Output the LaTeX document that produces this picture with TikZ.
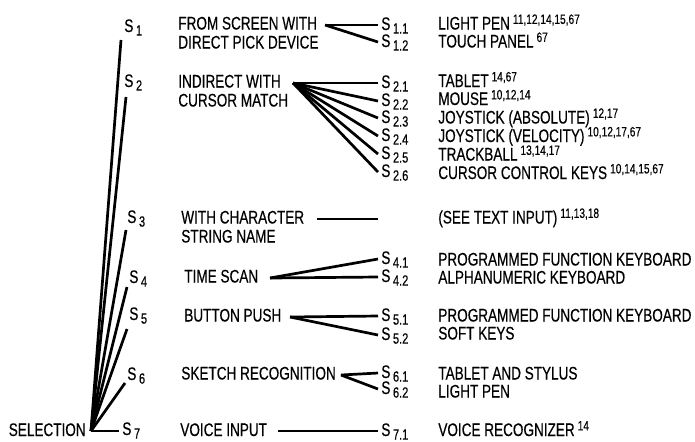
\documentclass[tikz,border=0pt]{standalone}
\usepackage{fontspec}
\setmainfont{Liberation Sans}[FakeStretch=0.745,FakeBold=0.4]
\newcommand{\refs}[1]{\,\raisebox{2.8pt}{\fontsize{6.8}{7}\selectfont #1}}
\newcommand{\Sx}[1]{S\kern1.3pt\raisebox{-1.8pt}{\fontsize{7.4}{8}\selectfont #1}}

\begin{document}
\begin{tikzpicture}[x=0.5pt,y=-0.5pt,line width=1.35pt,
    lbl/.style={anchor=base west,inner sep=0pt,font=\fontsize{9.1}{11}\selectfont}]
    \useasboundingbox (0,0) rectangle (695,441);

    % Root of the fan
    \coordinate (root) at (91,431);
    \node[lbl,anchor=base east] (sel) at (87,436) {SELECTION};

    % Fan to the seven classes
    \foreach \i/\tx/\ty/\lx/\ly in {1/121/40/123/32, 2/126/97/123/87, 3/126/230/126/223,
        4/127/287/128/283, 5/127/329/128/320, 6/125/383/126/380, 7/119/431/121/435}{
        \coordinate (t\i) at (\tx,\ty);
        \node[lbl] (s\i) at (\lx,\ly) {\Sx{\i}};
        \draw (root) -- (t\i);
    }

    % Class names
    \node[lbl] (m1a) at (177,29.5) {FROM SCREEN WITH};
    \node[lbl] (m1b) at (177,48.5) {DIRECT PICK DEVICE};
    \node[lbl] (m2a) at (177,87.5) {INDIRECT WITH};
    \node[lbl] (m2b) at (177,106.5) {CURSOR MATCH};
    \node[lbl] (m3a) at (180,223.5) {WITH CHARACTER};
    \node[lbl] (m3b) at (180,242.5) {STRING NAME};
    \node[lbl] (m4) at (183,282.5) {TIME SCAN};
    \node[lbl] (m5) at (183,321.5) {BUTTON PUSH};
    \node[lbl] (m6) at (180,379.5) {SKETCH RECOGNITION};
    \node[lbl] (m7) at (179,436) {VOICE INPUT};

    % Branch points
    \coordinate (g1) at (325,25);
    \coordinate (g2) at (293,83);
    \coordinate (g4) at (270,278);
    \coordinate (g5) at (290,317);
    \coordinate (g6) at (341,375);
    \coordinate (g7) at (278,431);

    % Devices
    \foreach \g/\j/\ey/\ty/\txt in {
        1/1/25/29.5/{LIGHT PEN\refs{11,12,14,15,67}},
        1/2/42/47.5/{TOUCH PANEL\refs{67}},
        2/1/83/87/{TABLET\refs{14,67}},
        2/2/101/105/{MOUSE\refs{10,12,14}},
        2/3/118/123.5/{JOYSTICK (ABSOLUTE)\refs{12,17}},
        2/4/136/142/{JOYSTICK (VELOCITY)\refs{10,12,17,67}},
        2/5/154/160.5/{TRACKBALL\refs{13,14,17}},
        2/6/172/179/{CURSOR CONTROL KEYS\refs{10,14,15,67}},
        4/1/259/265.5/{PROGRAMMED FUNCTION KEYBOARD},
        4/2/277/283.5/{ALPHANUMERIC KEYBOARD},
        5/1/316/321.5/{PROGRAMMED FUNCTION KEYBOARD},
        5/2/335/339.5/{SOFT KEYS},
        6/1/373/379.5/{TABLET AND STYLUS},
        6/2/389/397.5/{LIGHT PEN},
        7/1/431/436/{VOICE RECOGNIZER\refs{14}}}{
        \coordinate (e\g\j) at (378,\ey);
        \node[lbl] (rs\g\j) at (380,\ey+5) {\Sx{\g.\j}};
        \node[lbl] (r\g\j) at (437,\ty) {\txt};
        \draw (g\g) -- (e\g\j);
    }

    % Character string: no sub-class
    \coordinate (g3) at (317,219);
    \coordinate (e3) at (378,219);
    \draw (g3) -- (e3);
    \node[lbl] (r3) at (437,223.5) {(SEE TEXT INPUT)\refs{11,13,18}};
\end{tikzpicture}
\end{document}
